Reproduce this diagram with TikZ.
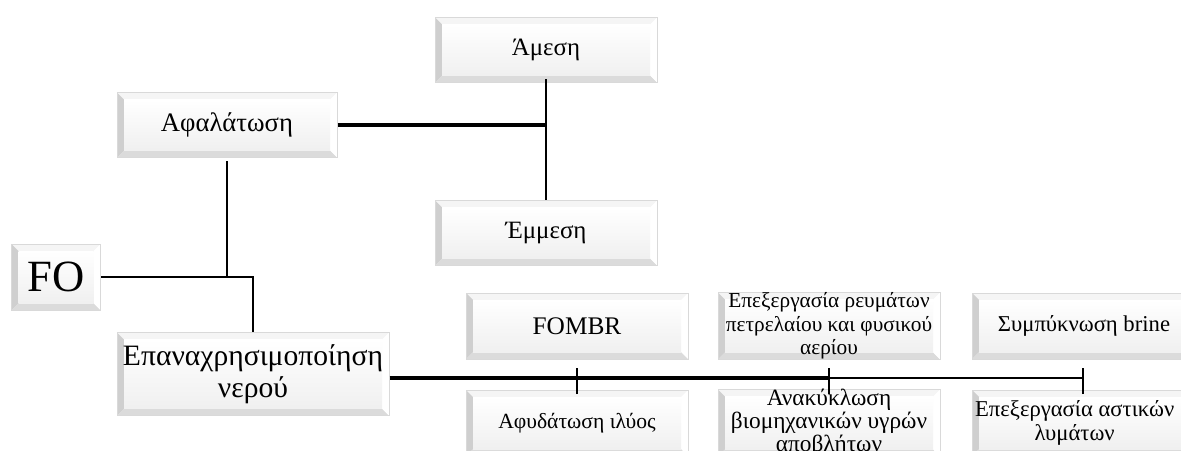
\documentclass[tikz,border=0pt]{standalone}
\usepackage{fontspec}
\setmainfont{Liberation Serif}
\begin{document}
\begin{tikzpicture}
  [x=0.75pt,y=-0.75pt,
  bevelbox/.style={draw=gray!30,line width=0.75pt,inner sep=0pt,align=center,
    minimum width=222*0.75pt,minimum height=66*0.75pt,
    path picture={
      \fill[gray!8] (path picture bounding box.north west) rectangle (path picture bounding box.south east);
      \fill[gray!38] (path picture bounding box.north west) -- (path picture bounding box.south west)
        -- ([shift={(7,-7)}]path picture bounding box.south west) -- ([shift={(7,7)}]path picture bounding box.north west) -- cycle;
      \fill[gray!28] (path picture bounding box.south west) -- (path picture bounding box.south east)
        -- ([shift={(-7,-7)}]path picture bounding box.south east) -- ([shift={(7,-7)}]path picture bounding box.south west) -- cycle;
      \fill[white] (path picture bounding box.north east) -- (path picture bounding box.south east)
        -- ([shift={(-7,-7)}]path picture bounding box.south east) -- ([shift={(-7,7)}]path picture bounding box.north east) -- cycle;
      \shade[top color=white,bottom color=gray!12] ([shift={(7,7)}]path picture bounding box.north west)
        rectangle ([shift={(-7,-7)}]path picture bounding box.south east);
    }},
  every node/.style={bevelbox},
  link/.style={line width=2pt},
  ]
  \clip (0,0) rectangle (1181,450);
  % left part
  \node[minimum width=89*0.75pt,font=\fontsize{33.5}{36}\selectfont] (fo) at (56,277) {FO};
  \node[minimum width=220*0.75pt,minimum height=65*0.75pt,font=\fontsize{20}{22}\selectfont] (afal) at (227,125) {Αφαλάτωση};
  \node[minimum width=272*0.75pt,minimum height=83*0.75pt,font=\fontsize{22.2}{24}\selectfont] (epan) at (253,374) {Επαναχρησιμοποίηση\\νερού};
  \node[minimum height=65*0.75pt,font=\fontsize{18.7}{20}\selectfont] (amesi) at (546,50) {Άμεση};
  \node[minimum height=65*0.75pt,font=\fontsize{18.7}{20}\selectfont] (emmesi) at (546,233) {Έμμεση};
  % bottom row
  \node[font=\fontsize{19}{21}\selectfont] (fombr) at (577,326) {FOMBR};
  \node[font=\fontsize{16.2}{18}\selectfont] (afyd) at (577,423) {Αφυδάτωση ιλύος};
  \node[font=\fontsize{16}{14.3}\selectfont] (reum) at (829,326) {\raisebox{-5pt}{\shortstack{Επεξεργασία ρευμάτων\\πετρελαίου και φυσικού\\αερίου}}};
  \node[font=\fontsize{17.5}{15}\selectfont] (anak) at (829,423) {Ανακύκλωση\\βιομηχανικών υγρών\\αποβλήτων};
  \node[minimum width=224*0.75pt,font=\fontsize{17}{18}\selectfont] (brine) at (1084,326) {Συμπύκνωση brine};
  \node[minimum width=224*0.75pt,font=\fontsize{17}{15.75}\selectfont] (astik) at (1084,423) {\shortstack{Επεξεργασία αστικών\\λυμάτων}\hspace{14pt}};
  % connectors
  \coordinate (j1) at (227,277);
  \coordinate (j2) at (253,277);
  \coordinate (j3) at (546,125);
  \draw[link] (fo.east) -- (j2) -- (epan.north);
  \draw[link] ([yshift=-3*0.75pt]afal.south) -- (j1);
  \draw[link,line width=2.4pt] (afal.east) -- (j3);
  \draw[link] ([yshift=4*0.75pt]amesi.south) -- (emmesi.north);
  \coordinate (m0) at (389,378);
  \coordinate (m1) at (577,378);
  \coordinate (m2) at (829,378);
  \coordinate (m3) at (1083,378);
  \draw[line width=3.2pt] (epan.east |- m0) -- (m2);
  \draw[line width=2pt] (m2) -- (m3);
  \foreach \t in {m1,m2,m3}
    \draw[link] ([yshift=-16*0.75pt]\t) -- ([yshift=10*0.75pt]\t);
\end{tikzpicture}
\end{document}
